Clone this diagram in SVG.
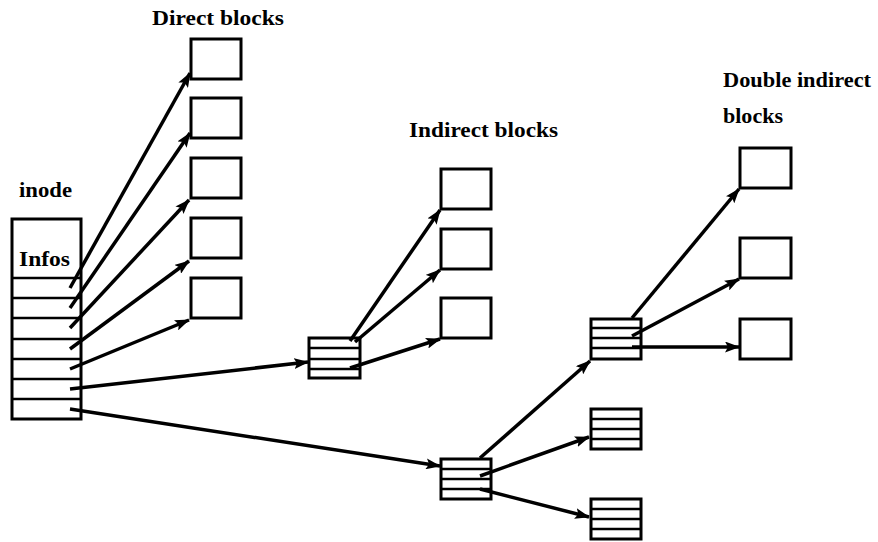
<svg xmlns="http://www.w3.org/2000/svg" width="878" height="542" viewBox="0 0 878 542">
<style>
.blk{fill:#fff;stroke:#000;stroke-width:3}
.row{stroke:#000;stroke-width:2.5}
.lbl{font-family:"Liberation Serif","Times New Roman",serif;font-weight:bold;font-size:22px;fill:#000}
.arr{stroke:#000;stroke-width:3.5;fill:none;marker-end:url(#ah)}
</style>
<defs>
<marker id="ah" markerUnits="userSpaceOnUse" markerWidth="15" markerHeight="11" refX="14" refY="5.5" orient="auto">
<path d="M0,0 L15,5.5 L0,11 L3,5.5 Z" fill="#000"/>
</marker>
</defs>
<rect width="878" height="542" fill="#fff"/>
<g id="labels">
<text class="lbl" x="152" y="25" textLength="132" lengthAdjust="spacingAndGlyphs">Direct blocks</text>
<text class="lbl" x="409" y="137" textLength="149" lengthAdjust="spacingAndGlyphs">Indirect blocks</text>
<text class="lbl" x="723" y="87" textLength="148" lengthAdjust="spacingAndGlyphs">Double indirect</text>
<text class="lbl" x="723" y="123" textLength="60" lengthAdjust="spacingAndGlyphs">blocks</text>
<text class="lbl" x="19" y="197" textLength="53" lengthAdjust="spacingAndGlyphs">inode</text>
</g>
<g id="inode">
<rect class="blk" x="12" y="219" width="69" height="200"/>
<text class="lbl" x="19" y="266" textLength="51" lengthAdjust="spacingAndGlyphs">Infos</text>
<line class="row" x1="12" y1="278" x2="81" y2="278"/>
<line class="row" x1="12" y1="298" x2="81" y2="298"/>
<line class="row" x1="12" y1="318" x2="81" y2="318"/>
<line class="row" x1="12" y1="339" x2="81" y2="339"/>
<line class="row" x1="12" y1="359" x2="81" y2="359"/>
<line class="row" x1="12" y1="379" x2="81" y2="379"/>
<line class="row" x1="12" y1="399" x2="81" y2="399"/>
</g>
<g id="direct1"><rect class="blk" x="191" y="39" width="50" height="40"/></g>
<g id="direct2"><rect class="blk" x="191" y="98" width="50" height="40"/></g>
<g id="direct3"><rect class="blk" x="191" y="158" width="50" height="40"/></g>
<g id="direct4"><rect class="blk" x="191" y="218" width="50" height="40"/></g>
<g id="direct5"><rect class="blk" x="191" y="278" width="50" height="40"/></g>
<g id="indirect-index">
<rect class="blk" x="309" y="338" width="51" height="40"/>
<line class="row" x1="309" y1="348" x2="360" y2="348"/>
<line class="row" x1="309" y1="359" x2="360" y2="359"/>
<line class="row" x1="309" y1="369" x2="360" y2="369"/>
</g>
<g id="indirect1"><rect class="blk" x="441" y="169" width="50" height="40"/></g>
<g id="indirect2"><rect class="blk" x="441" y="229" width="50" height="40"/></g>
<g id="indirect3"><rect class="blk" x="441" y="298" width="50" height="40"/></g>
<g id="double-index">
<rect class="blk" x="441" y="459" width="50" height="40"/>
<line class="row" x1="441" y1="469" x2="491" y2="469"/>
<line class="row" x1="441" y1="479" x2="491" y2="479"/>
<line class="row" x1="441" y1="489" x2="491" y2="489"/>
</g>
<g id="double-sub1">
<rect class="blk" x="591" y="319" width="50" height="40"/>
<line class="row" x1="591" y1="328" x2="641" y2="328"/>
<line class="row" x1="591" y1="338" x2="641" y2="338"/>
<line class="row" x1="591" y1="348" x2="641" y2="348"/>
</g>
<g id="double-sub2">
<rect class="blk" x="591" y="409" width="50" height="40"/>
<line class="row" x1="591" y1="419" x2="641" y2="419"/>
<line class="row" x1="591" y1="429" x2="641" y2="429"/>
<line class="row" x1="591" y1="439" x2="641" y2="439"/>
</g>
<g id="double-sub3">
<rect class="blk" x="591" y="499" width="50" height="40"/>
<line class="row" x1="591" y1="509" x2="641" y2="509"/>
<line class="row" x1="591" y1="519" x2="641" y2="519"/>
<line class="row" x1="591" y1="529" x2="641" y2="529"/>
</g>
<g id="dbl1"><rect class="blk" x="740" y="148" width="51" height="40"/></g>
<g id="dbl2"><rect class="blk" x="740" y="238" width="51" height="40"/></g>
<g id="dbl3"><rect class="blk" x="740" y="319" width="51" height="40"/></g>
<g id="connectors">
<line class="arr" x1="70" y1="288" x2="190" y2="73"/>
<line class="arr" x1="70" y1="308" x2="190" y2="133"/>
<line class="arr" x1="70" y1="328" x2="189" y2="200"/>
<line class="arr" x1="70" y1="349" x2="189" y2="261"/>
<line class="arr" x1="70" y1="369" x2="189" y2="320"/>
<line class="arr" x1="70" y1="389" x2="308" y2="362"/>
<line class="arr" x1="70" y1="409" x2="440" y2="466"/>
<line class="arr" x1="350" y1="341" x2="440" y2="210"/>
<line class="arr" x1="355" y1="342" x2="440" y2="270"/>
<line class="arr" x1="350" y1="368" x2="440" y2="339"/>
<line class="arr" x1="480" y1="458" x2="590" y2="361"/>
<line class="arr" x1="480" y1="476" x2="589" y2="437"/>
<line class="arr" x1="480" y1="489" x2="589" y2="517"/>
<line class="arr" x1="632" y1="318" x2="739" y2="189"/>
<line class="arr" x1="632" y1="336" x2="739" y2="279"/>
<line class="arr" x1="632" y1="347" x2="739" y2="347"/>
</g>
</svg>
